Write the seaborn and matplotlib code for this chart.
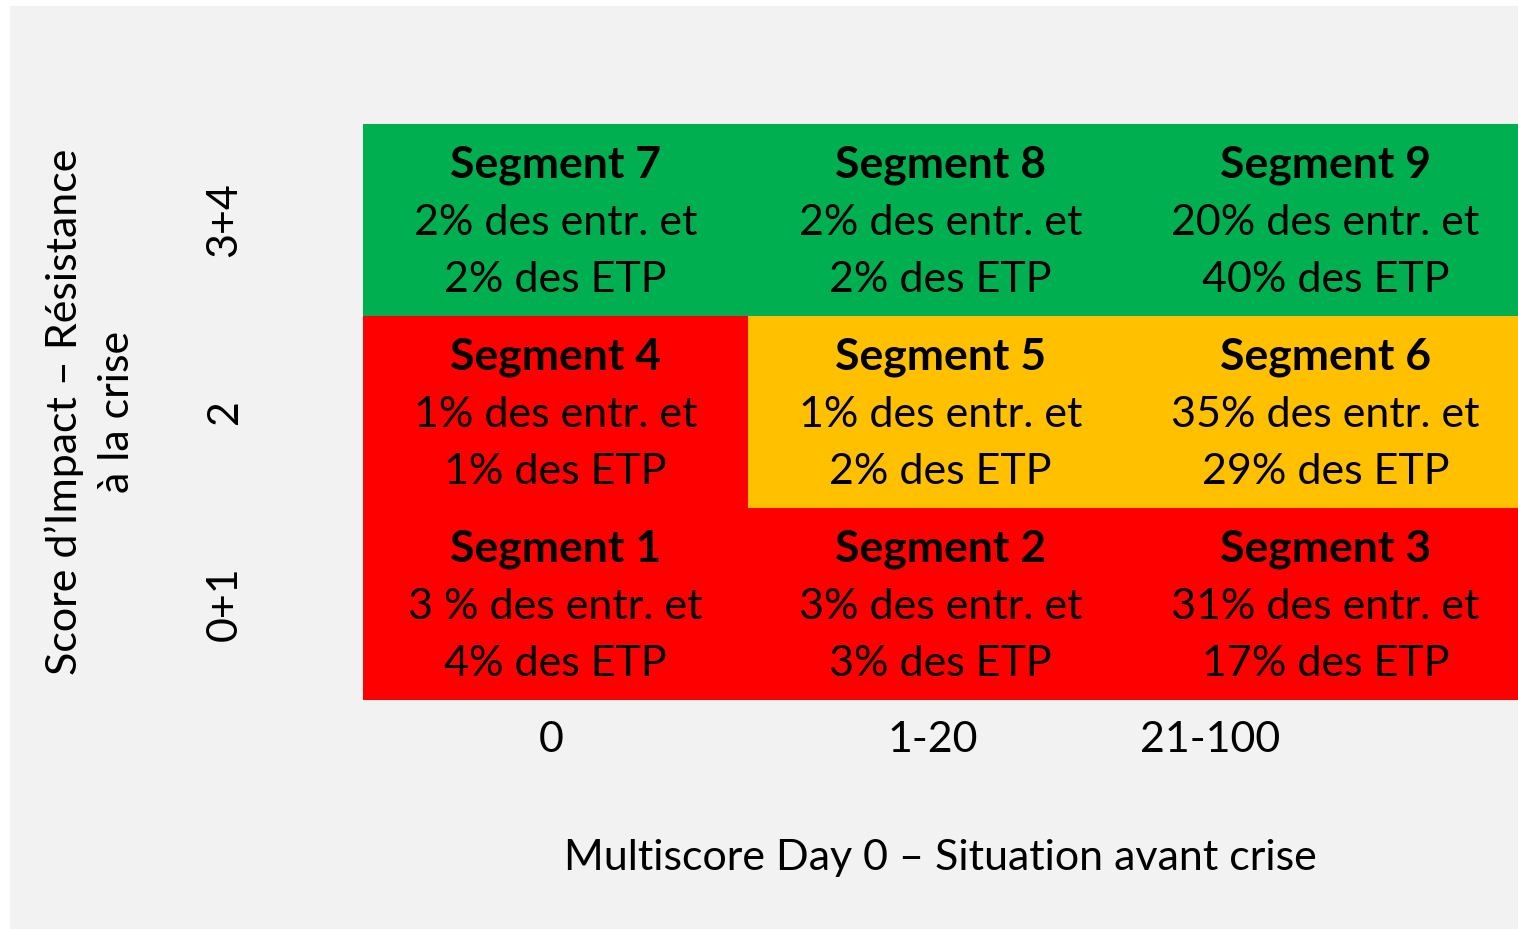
import numpy as np
import pandas as pd
import seaborn as sns
import matplotlib.pyplot as plt
from matplotlib.colors import ListedColormap
from matplotlib.patches import Rectangle

# rows top -> bottom, columns left -> right
row_labels = ["3+4", "2", "0+1"]
col_labels = ["0", "1-20", "21-100"]
col_tick_pos = [0.49, 1.48, 2.2]  # "21-100" sits off-centre in the original

segments = [[7, 8, 9],
            [4, 5, 6],
            [1, 2, 3]]
pct_entr = [["2%", "2%", "20%"],
            ["1%", "1%", "35%"],
            ["3 %", "3%", "31%"]]
pct_etp = [["2%", "2%", "40%"],
           ["1%", "2%", "29%"],
           ["4%", "3%", "17%"]]
# 0 = fragile (red), 1 = intermediate (orange), 2 = resilient (green)
status = [[2, 2, 2],
          [0, 1, 1],
          [0, 0, 0]]

colors = ["#FF0000", "#FFC000", "#00B050"]
bg = "#F2F2F2"

df = pd.DataFrame(status, index=row_labels, columns=col_labels)

sns.set_style("white", {"text.color": "black", "axes.labelcolor": "black",
                        "xtick.color": "black", "ytick.color": "black"})
plt.rcParams['font.family'] = ['Lato', 'DejaVu Sans']

fig = plt.figure(figsize=(15.18, 9.3), dpi=100)
fig.patches.append(Rectangle((10 / 1518, 1 / 930), 1 - 10 / 1518, 923 / 930,
                             transform=fig.transFigure, facecolor=bg,
                             edgecolor="none", zorder=-1))
ax = fig.add_axes([363 / 1518, 1 - 700 / 930, 1 - 363 / 1518, 576 / 930])

sns.heatmap(df, cmap=ListedColormap(colors), vmin=-0.5, vmax=2.5,
            cbar=False, annot=False, ax=ax)

fs = 31
for i in range(3):
    for j in range(3):
        cx, cy = j + 0.5, i + 0.515
        ax.text(cx, cy - 0.3, f"Segment {segments[i][j]}", ha="center", va="center",
                fontsize=32, fontweight="bold", color="black")
        ax.text(cx, cy, f"{pct_entr[i][j]} des entr. et", ha="center", va="center",
                fontsize=fs, color="black")
        ax.text(cx, cy + 0.3, f"{pct_etp[i][j]} des ETP", ha="center", va="center",
                fontsize=fs, color="black")

ax.set_xticks(col_tick_pos)
ax.set_xticklabels(col_labels, fontsize=fs, rotation=0)
ax.set_yticklabels(row_labels, fontsize=fs, rotation=90, va="center")
ax.tick_params(axis="x", length=0, pad=15, labelcolor="black")
ax.tick_params(axis="y", length=0, pad=86, labelcolor="black")

ax.set_xlabel("Multiscore Day 0 – Situation avant crise", fontsize=fs, color="black")
ax.xaxis.set_label_coords(0.5, -0.274)
ax.xaxis.label.set_va("center")
ax.set_ylabel("Score d’Impact – Résistance\nà la crise", fontsize=fs,
              linespacing=1.45, color="black")
ax.yaxis.set_label_coords(-0.236, 0.5)
ax.yaxis.label.set_va("center")

for s in ax.spines.values():
    s.set_visible(False)

fig.savefig("out.png", dpi=100)
